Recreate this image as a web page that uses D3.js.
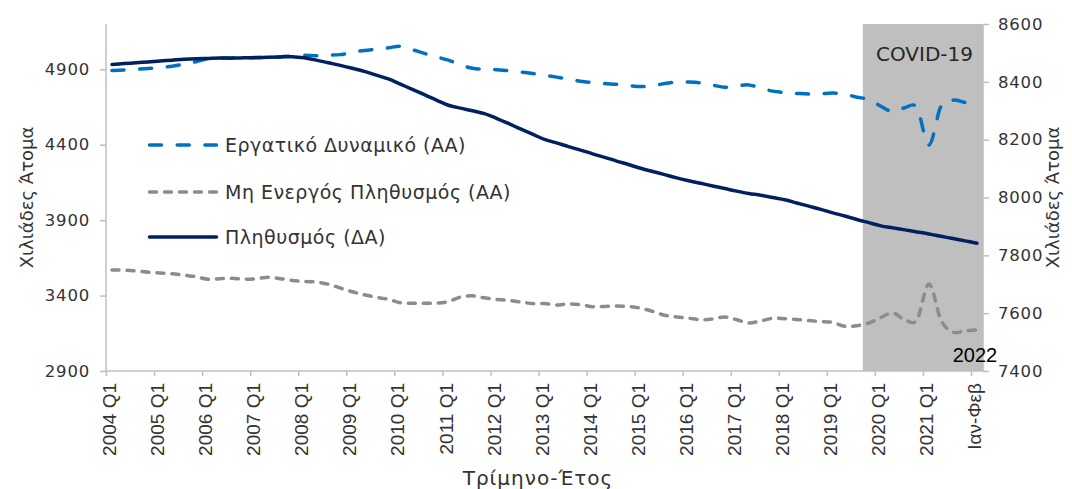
<!DOCTYPE html>
<html>
<head>
<meta charset="utf-8">
<script src="https://cdn.jsdelivr.net/npm/d3@7"></script>
<style>
  body { margin: 0; background: #fff; }
  svg { display: block; }
  .yTick text { font-family: "DejaVu Sans", sans-serif; font-size: 16.5px; letter-spacing: 0.8px; fill: #333; }
  .xTick text { font-family: "Liberation Sans", Arial, sans-serif; font-size: 19px; fill: #333; }
  .axisLabel { font-family: "DejaVu Sans", sans-serif; font-size: 18px; fill: #333; }
  .legendText { font-family: "DejaVu Sans", sans-serif; font-size: 19px; letter-spacing: 0.5px; fill: #333; }
</style>
</head>
<body>
<div id="plotSect"></div>
<script>
// quarters 2004 Q1 .. 2021 Q4 plus Jan-Feb 2022 (73 categories)
let years = [2004,2005,2006,2007,2008,2009,2010,2011,2012,2013,2014,2015,2016,2017,2018,2019,2020,2021];
let categories = [];
years.forEach(function(y) {
    for (let q = 1; q <= 4; q++) { categories.push(y + " Q" + q); }
});
categories.push("Ιαν-Φεβ 2022");

let tickLabels = ["2004 Q1","2005 Q1","2006 Q1","2007 Q1","2008 Q1","2009 Q1","2010 Q1","2011 Q1","2012 Q1",
    "2013 Q1","2014 Q1","2015 Q1","2016 Q1","2017 Q1","2018 Q1","2019 Q1","2020 Q1","2021 Q1","Ιαν-Φεβ"];
let tickIndex = [0,4,8,12,16,20,24,28,32,36,40,44,48,52,56,60,64,68,72];

// Εργατικό Δυναμικό (left axis, thousands)
let labourForce = [4891,4895,4900,4905,4912,4920,4935,4950,4970,4975,4975,4977,4977,4980,4982,4988,
    4993,4990,4993,4997,5012,5025,5033,5042,5052,5030,5005,4982,4960,4930,4907,4900,
    4897,4890,4882,4872,4860,4848,4835,4820,4812,4805,4800,4792,4785,4790,4805,4815,
    4815,4810,4795,4781,4790,4796,4775,4755,4745,4740,4736,4738,4742,4735,4715,4700,
    4655,4618,4645,4645,4398,4655,4695,4680,4665];

// Μη Ενεργός Πληθυσμός (left axis, thousands)
let inactive = [3570,3568,3563,3555,3550,3545,3535,3525,3508,3512,3514,3508,3512,3521,3512,3500,
    3493,3490,3475,3450,3425,3405,3388,3375,3352,3349,3349,3349,3360,3390,3398,3385,
    3375,3368,3358,3347,3347,3337,3345,3340,3326,3328,3331,3327,3316,3295,3270,3258,
    3250,3240,3245,3258,3240,3218,3232,3249,3247,3242,3234,3228,3222,3196,3200,3218,
    3255,3284,3240,3238,3477,3238,3158,3166,3172];

// Πληθυσμός (right axis, thousands)
let population = [8460,8463,8466,8469,8472,8475,8478,8480,8481,8482,8482,8483,8484,8485,8486,8487,
    8483,8475,8466,8457,8447,8436,8423,8410,8392,8374,8356,8337,8319,8309,8300,8290,
    8274,8256,8237,8219,8201,8189,8176,8164,8151,8139,8126,8114,8101,8090,8079,8068,
    8058,8049,8040,8031,8022,8014,8008,8000,7992,7981,7970,7959,7947,7936,7924,7913,
    7902,7895,7888,7881,7874,7866,7858,7850,7842];

let covidStart = 63;   // 2019 Q4 onwards shaded

let seriesNames = ["Εργατικό Δυναμικό (ΑΑ)", "Μη Ενεργός Πληθυσμός (ΑΑ)", "Πληθυσμός (ΔΑ)"];

// Initial chart setup //

let SVGwidth = 1072,
SVGheight = 489,
margin = {top: 24, right: 89, bottom: 118, left: 106},
width = SVGwidth - margin.left - margin.right,
height = SVGheight - margin.top - margin.bottom;

let svg = d3.select("#plotSect").append("svg")
    .attr("width", SVGwidth)
    .attr("height", SVGheight)
    .append("g")
    .attr("transform", "translate(" + margin.left + "," + margin.top + ")");

let xScale = d3.scaleLinear().domain([0, categories.length]).range([0, width]);
let yLeft = d3.scaleLinear().domain([2900, 5200]).range([height, 0]);
let yRight = d3.scaleLinear().domain([7400, 8600]).range([height, 0]);

let xMid = function(d, i) { return xScale(i + 0.5); };

// COVID band
svg.append("rect")
    .attr("x", xScale(covidStart))
    .attr("y", 0)
    .attr("width", xScale(categories.length) - xScale(covidStart))
    .attr("height", height)
    .style("fill", "#bfbfbf");

svg.append("text")
    .attr("x", xScale(categories.length) - 10)
    .attr("y", 37)
    .style("text-anchor", "end")
    .style("font-family", "DejaVu Sans, sans-serif")
    .style("font-size", "20px")
    .style("fill", "#262626")
    .text("COVID-19");

// axes
let axisColor = "#bfbfbf";

let yAxisL = svg.append("g")
    .attr("class", "yTick")
    .call(d3.axisLeft(yLeft).tickValues([2900,3400,3900,4400,4900]).tickSize(6).tickPadding(10)
        .tickFormat(d3.format("d")));

let yAxisR = svg.append("g")
    .attr("class", "yTick")
    .attr("transform", "translate(" + width + ",0)")
    .call(d3.axisRight(yRight).tickValues([7400,7600,7800,8000,8200,8400,8600]).tickSize(6).tickPadding(9)
        .tickFormat(d3.format("d")));

let xAxis = svg.append("g")
    .attr("class", "xTick")
    .attr("transform", "translate(0," + height + ")")
    .call(d3.axisBottom(xScale).tickValues(tickIndex).tickSize(5)
        .tickFormat(function(d, i) { return tickLabels[i]; }));

xAxis.selectAll("text")
    .attr("transform", "rotate(-90)")
    .attr("x", -12)
    .attr("y", 3)
    .attr("dy", "0.35em")
    .style("text-anchor", "end");

[yAxisL, yAxisR, xAxis].forEach(function(a) {
    a.select(".domain").attr("stroke", axisColor).attr("stroke-width", 1.5);
    a.selectAll(".tick line").attr("stroke", axisColor).attr("stroke-width", 1.5);
});
yAxisL.select(".domain").attr("d", "M0,0V" + height);
yAxisR.select(".domain").attr("d", "M0,0V" + height);
xAxis.select(".domain").attr("d", "M0,0H" + width);

svg.append("text")
    .attr("class", "axisLabel")
    .attr("transform", "rotate(-90)")
    .attr("x", 0 - (height / 2))
    .attr("y", -73)
    .style("text-anchor", "middle")
    .text("Χιλιάδες Άτομα");

svg.append("text")
    .attr("class", "axisLabel")
    .attr("transform", "rotate(-90)")
    .attr("x", 0 - (height / 2))
    .attr("y", width + 76)
    .style("text-anchor", "middle")
    .text("Χιλιάδες Άτομα");

svg.append("text")
    .attr("class", "axisLabel")
    .attr("x", 538 - margin.left)
    .attr("y", 485 - margin.top)
    .style("text-anchor", "middle")
    .style("font-size", "20px")
    .style("letter-spacing", "1px")
    .text("Τρίμηνο-Έτος");

// lines
let curve = d3.curveCardinal.tension(0);

let lineLeft = d3.line().x(xMid).y(function(d) { return yLeft(d); }).curve(curve);
let lineRight = d3.line().x(xMid).y(function(d) { return yRight(d); }).curve(curve);

let styles = [
    {color: "#0070c0", dash: "12,15.7"},
    {color: "#8c8c8c", dash: "7,8"},
    {color: "#002060", dash: null}
];

svg.append("path")
    .attr("d", lineLeft(inactive))
    .style("fill", "none")
    .style("stroke", styles[1].color)
    .style("stroke-width", 3.5)
    .style("stroke-linecap", "round")
    .style("stroke-dasharray", styles[1].dash);

svg.append("path")
    .attr("d", lineLeft(labourForce))
    .style("fill", "none")
    .style("stroke", styles[0].color)
    .style("stroke-width", 3.5)
    .style("stroke-linecap", "round")
    .style("stroke-dasharray", styles[0].dash);

svg.append("path")
    .attr("d", lineRight(population))
    .style("fill", "none")
    .style("stroke", styles[2].color)
    .style("stroke-width", 3.5)
    .style("stroke-linecap", "round");

// data label on the last point
svg.append("text")
    .attr("x", xScale(categories.length - 0.5) - 2)
    .attr("y", 362 - margin.top)
    .style("text-anchor", "middle")
    .style("font-family", "Liberation Sans, Arial, sans-serif")
    .style("font-size", "20px")
    .style("fill", "#000")
    .text("2022");

// legend
let legend = svg.selectAll(".legend")
    .data(seriesNames)
    .enter().append("g")
    .attr("class", "legend")
    .attr("transform", function(d, i) { return "translate(0," + ([145, 192, 237][i] - margin.top) + ")"; });

legend.append("line")
    .attr("x1", 148 - margin.left + 1.5)
    .attr("x2", 218 - margin.left - 1.5)
    .attr("y1", 0)
    .attr("y2", 0)
    .style("stroke", function(d, i) { return styles[i].color; })
    .style("stroke-width", 3.5)
    .style("stroke-linecap", "round")
    .style("stroke-dasharray", function(d, i) { return styles[i].dash; });

legend.append("text")
    .attr("class", "legendText")
    .attr("x", 225 - margin.left)
    .attr("y", 0)
    .attr("dy", "0.35em")
    .text(function(d) { return d; });
</script>
</body>
</html>
